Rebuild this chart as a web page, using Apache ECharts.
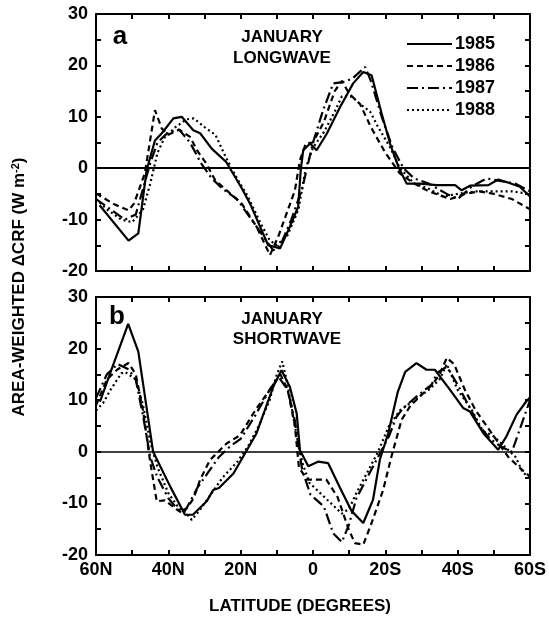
<!DOCTYPE html>
<html>
<head>
<meta charset="utf-8">
<script src="https://cdn.jsdelivr.net/npm/echarts@6/dist/echarts.min.js"></script>
<style>
  html, body { margin: 0; padding: 0; background: #fff; }
  #chart { width: 549px; height: 622px; }
</style>
</head>
<body>
<div id="chart"></div>
<script>
// x position: negative = north, positive = south
var xTicks = [-60, -40, -20, 0, 20, 40, 60];
var yTicks = [-20, -10, 0, 10, 20, 30];

// panel a, longwave
var lwLat1985 = [-59, -51, -48.3, -46, -43.7, -41.8, -38.6, -36.3, -33.1, -31.2, -28, -24, -19.7, -17.4, -12.4, -9.1, -6.4, -4.1, -3.4, -2.7, -0.8, 1, 3.8, 7.5, 11.1, 13.9, 16.2, 19, 21.3, 23.6, 25.9, 29.6, 34.2, 39.3, 41.1, 43.4, 48.5, 51.2, 53.5, 57.2, 60];
var lw1985    = [-7.2, -14.1, -12.7, -0.4, 5.4, 6.8, 9.7, 10, 7.4, 6.8, 3.8, 1.2, -3.9, -6.9, -15, -15.6, -11.4, -7.5, -0.4, 3.5, 4.8, 3.5, 6.7, 11.9, 16.5, 18.7, 18.1, 10.6, 4.8, 0.3, -3, -3, -3.3, -3.3, -4.3, -3.4, -3.3, -2.2, -2.7, -3.6, -5.5];
var lwLat1986 = [-60, -55, -51, -49.5, -46.5, -43.7, -41.8, -40, -37, -34, -32, -29.5, -27, -23.4, -19.7, -15.6, -11.9, -9.6, -5, -3.6, -2, 0, 3, 6, 8, 10, 13, 16, 20, 24, 28, 32, 38, 42, 46, 50, 55, 60];
var lw1986    = [-4.9, -7, -8.2, -6.9, -1, 11.3, 7.7, 6.5, 7.5, 6.1, 3.4, 0.9, -2.4, -4.6, -6.9, -11.4, -16.9, -13.3, -4.3, 1.6, 4.8, 5, 9, 15, 17, 14.5, 12.5, 8, 3, -1, -3, -4.5, -6, -5, -4.5, -5, -6, -8];
var lwLat1987 = [-60, -56, -52, -49, -47, -45, -43, -40, -37, -34, -31, -28, -25, -21, -17, -14, -11, -9, -6, -3, -1, 0, 2.8, 5.6, 8.8, 11, 14.4, 16, 19, 22, 25, 28, 32, 37, 40, 44, 48, 52, 56, 60];
var lw1987    = [-6, -8, -10, -9, -4, 1, 5, 7, 7.5, 5, 1, -2, -4, -6, -10, -13, -16, -15, -10, -4, 2, 5, 11.3, 16.5, 16.8, 17.5, 19.7, 17, 10, 4, 0, -2, -3, -5, -6, -3.5, -2, -2.5, -3, -4.5];
var lwLat1988 = [-60, -57, -53, -50, -47, -45, -43, -41, -38, -35, -33, -30, -27, -24, -21, -18, -15, -12, -10, -7, -4, -2, 0, 3, 6, 8, 10.7, 13, 15.8, 18, 21.3, 24, 28, 32, 36, 40, 45, 50, 55, 60];
var lw1988    = [-6, -8, -10, -10.5, -8, -3, 3, 6, 8, 9.5, 9.7, 8, 6.5, 2, -2, -5.5, -10, -14, -15, -13, -8, 0, 4, 7, 11, 14, 13.9, 12.5, 11, 8, 4.1, 0, -3, -4, -5.5, -5, -4.5, -4.5, -4.5, -5];

// panel b, shortwave
var swLat1985 = [-58.9, -56.1, -51.1, -48.3, -44.2, -39.5, -35.4, -33.2, -29.4, -27.6, -26, -22, -18.3, -15.6, -13.3, -11, -8.7, -6.4, -4.5, -3.6, -1.3, 1.5, 4.2, 7.5, 10.7, 13.9, 16.6, 18.5, 20.8, 23.4, 25.5, 28.6, 31.4, 33.7, 37.9, 41.5, 43.4, 47.1, 51.2, 53.5, 56.3, 59, 60];
var sw1985    = [9.7, 15.2, 24.8, 19.4, 0, -6.7, -12.2, -12.2, -9.6, -7.4, -7, -4.2, 0.3, 3.6, 8.1, 12.6, 15.8, 12.6, 7.4, 0.3, -2.8, -1.9, -2.2, -7, -11.5, -13.8, -9.3, -1.5, 3.6, 11.5, 15.5, 17.2, 15.9, 15.9, 12, 8.5, 7.8, 3.6, 0.4, 3, 7.2, 9.8, 10.5];
var swLat1986 = [-60, -57, -54, -51, -49, -47, -45, -43.2, -41, -38, -36, -33, -31.2, -28.5, -23.9, -20.2, -16, -12, -9, -7, -5, -3.9, -1.6, 3.7, 6.8, 9.9, 11.6, 13.9, 16.2, 19.4, 21.7, 24.5, 27, 30, 33, 35, 37, 39, 42, 45, 48, 51, 54, 57, 60];
var sw1986    = [9, 14, 16, 17.2, 15, 8, -2, -9.6, -9.4, -11, -12, -9, -5.4, -1.6, 1.6, 3.2, 8, 12, 15, 12, 5, -3, -5.4, -5.4, -8.8, -15.1, -17.7, -18, -13.8, -7.4, -0.9, 6.2, 9, 11, 13, 15, 18.2, 17, 12, 8, 5, 2, -1, -3, -4.8];
var swLat1987 = [-60, -57, -54, -51, -49, -47, -45, -43, -40, -37, -35, -32, -29, -26, -23, -20, -16, -12, -9.5, -7, -5, -3, -0.7, 3, 5.6, 8, 10, 12, 15, 18, 21, 23.1, 25, 28.6, 32.8, 34.3, 37, 40, 43, 46, 49, 52, 55, 57, 60];
var sw1987    = [10.4, 15, 17, 16, 14, 7, -1, -5, -9, -11.5, -11, -7, -4, -1, 1, 2.5, 7, 12, 14.5, 12, 6, -3.5, -8.3, -10.6, -15.8, -17.5, -14, -9, -5, -1, 3, 6.8, 8.5, 10.7, 13, 15.3, 16.5, 13, 9, 5, 2.5, 1, 0, 4, 10];
var swLat1988 = [-60, -58, -56, -53, -52, -49, -47, -45, -43, -40, -37, -35, -33.5, -31, -28, -25, -21, -18, -15, -12, -10, -8.5, -7, -5, -3, -1, 2, 5, 8, 10, 12, 15, 18, 21, 24, 28, 32, 35, 37, 40, 44, 47, 50, 53, 56, 58, 60];
var sw1988    = [8, 9.5, 12, 15.2, 15.5, 14, 9, 2, -3, -8, -11, -12, -13.2, -11, -8, -5, -2, 1, 5, 10, 15, 17.5, 13, 5, -2, -6, -8, -10, -12, -11, -8, -4, 0, 5, 8, 10, 12, 14, 17, 12, 8, 4, 3, 1, -1, -4, -5];

var years = ['1985', '1986', '1987', '1988'];
var dashes = ['solid', [6, 4], [11, 4, 2, 4], [2, 3]];
var FONT = 'Liberation Sans';

function pairs(xs, ys) {
  return xs.map(function (x, i) { return [x, ys[i]]; });
}
function latLabel(v) {
  if (v < 0) return (-v) + 'N';
  if (v > 0) return v + 'S';
  return '0';
}

var myChart = echarts.init(document.getElementById('chart'));

var grids = [
  {left: 96, top: 14, width: 434, height: 257},
  {left: 96, top: 297, width: 434, height: 258}
];

var xAxes = [], yAxes = [];
[0, 1].forEach(function (g) {
  // bottom + top x
  [false, true].forEach(function (isTop) {
    xAxes.push({
      type: 'value', gridIndex: g, min: -60, max: 60, interval: 10,
      position: isTop ? 'top' : 'bottom',
      axisLine: {onZero: false, lineStyle: {color: '#000', width: 2}},
      axisTick: {inside: true, length: 5, lineStyle: {width: 2, color: '#000'}},
      splitLine: {show: false},
      axisLabel: {
        show: !isTop && g === 1, margin: 6, color: '#000',
        fontFamily: FONT, fontWeight: 'bold', fontSize: 18,
        formatter: function (v) { return xTicks.indexOf(v) >= 0 ? latLabel(v) : ''; }
      }
    });
  });
  // left + right y
  [false, true].forEach(function (isRight) {
    yAxes.push({
      type: 'value', gridIndex: g, min: -20, max: 30, interval: 5,
      position: isRight ? 'right' : 'left',
      axisLine: {onZero: false, lineStyle: {color: '#000', width: 2}},
      axisTick: {inside: true, length: 5, lineStyle: {width: 2, color: '#000'}},
      splitLine: {show: false},
      axisLabel: {
        show: !isRight, margin: 8, color: '#000',
        fontFamily: FONT, fontWeight: 'bold', fontSize: 18,
        formatter: function (v) { return yTicks.indexOf(v) >= 0 ? String(v) : ''; }
      }
    });
  });
});

var lwData = [pairs(lwLat1985, lw1985), pairs(lwLat1986, lw1986), pairs(lwLat1987, lw1987), pairs(lwLat1988, lw1988)];
var swData = [pairs(swLat1985, sw1985), pairs(swLat1986, sw1986), pairs(swLat1987, sw1987), pairs(swLat1988, sw1988)];

var series = [];
[lwData, swData].forEach(function (panel, p) {
  panel.forEach(function (d, i) {
    var s = {
      name: years[i], type: 'line', data: d,
      xAxisIndex: p * 2, yAxisIndex: p * 2,
      symbol: 'none', animation: false,
      lineStyle: {color: '#000', width: 2.2, type: dashes[i]}
    };
    if (i === 0) {
      s.markLine = {
        silent: true, symbol: 'none', label: {show: false},
        lineStyle: {color: '#000', type: 'solid', width: p === 0 ? 2 : 1.5},
        data: [{yAxis: 0}]
      };
    }
    series.push(s);
  });
});

var graphic = [];
function txt(x, y, text, size, align) {
  graphic.push({
    type: 'text', x: x, y: y,
    style: {text: text, fill: '#000', font: 'bold ' + size + 'px "' + FONT + '"',
            align: align || 'center', verticalAlign: 'middle'}
  });
}
txt(120, 37, 'a', 26);
txt(282, 37, 'JANUARY', 17);
txt(282, 58, 'LONGWAVE', 17);
txt(117, 317, 'b', 26);
txt(282, 319, 'JANUARY', 17);
txt(287, 339, 'SHORTWAVE', 17);
txt(300, 606, 'LATITUDE (DEGREES)', 17);

years.forEach(function (yr, i) {
  var y = 44 + i * 22;
  graphic.push({
    type: 'line', shape: {x1: 407, y1: y, x2: 452, y2: y},
    style: {stroke: '#000', lineWidth: 2, lineDash: dashes[i] === 'solid' ? null : dashes[i]}
  });
  txt(455, y, yr, 18, 'left');
});

graphic.push({
  type: 'text', x: 19, y: 287, rotation: Math.PI / 2,
  style: {
    text: '{a|AREA-WEIGHTED ΔCRF (W m}{s|-2}{a|)}',
    align: 'center', verticalAlign: 'middle', fill: '#000',
    rich: {
      a: {fontFamily: FONT, fontWeight: 'bold', fontSize: 17, fill: '#000'},
      s: {fontFamily: FONT, fontWeight: 'bold', fontSize: 11, fill: '#000', verticalAlign: 'top'}
    }
  }
});

var option = {
  animation: false,
  backgroundColor: '#fff',
  grid: grids,
  xAxis: xAxes,
  yAxis: yAxes,
  series: series,
  graphic: graphic
};
myChart.setOption(option);
</script>
</body>
</html>
